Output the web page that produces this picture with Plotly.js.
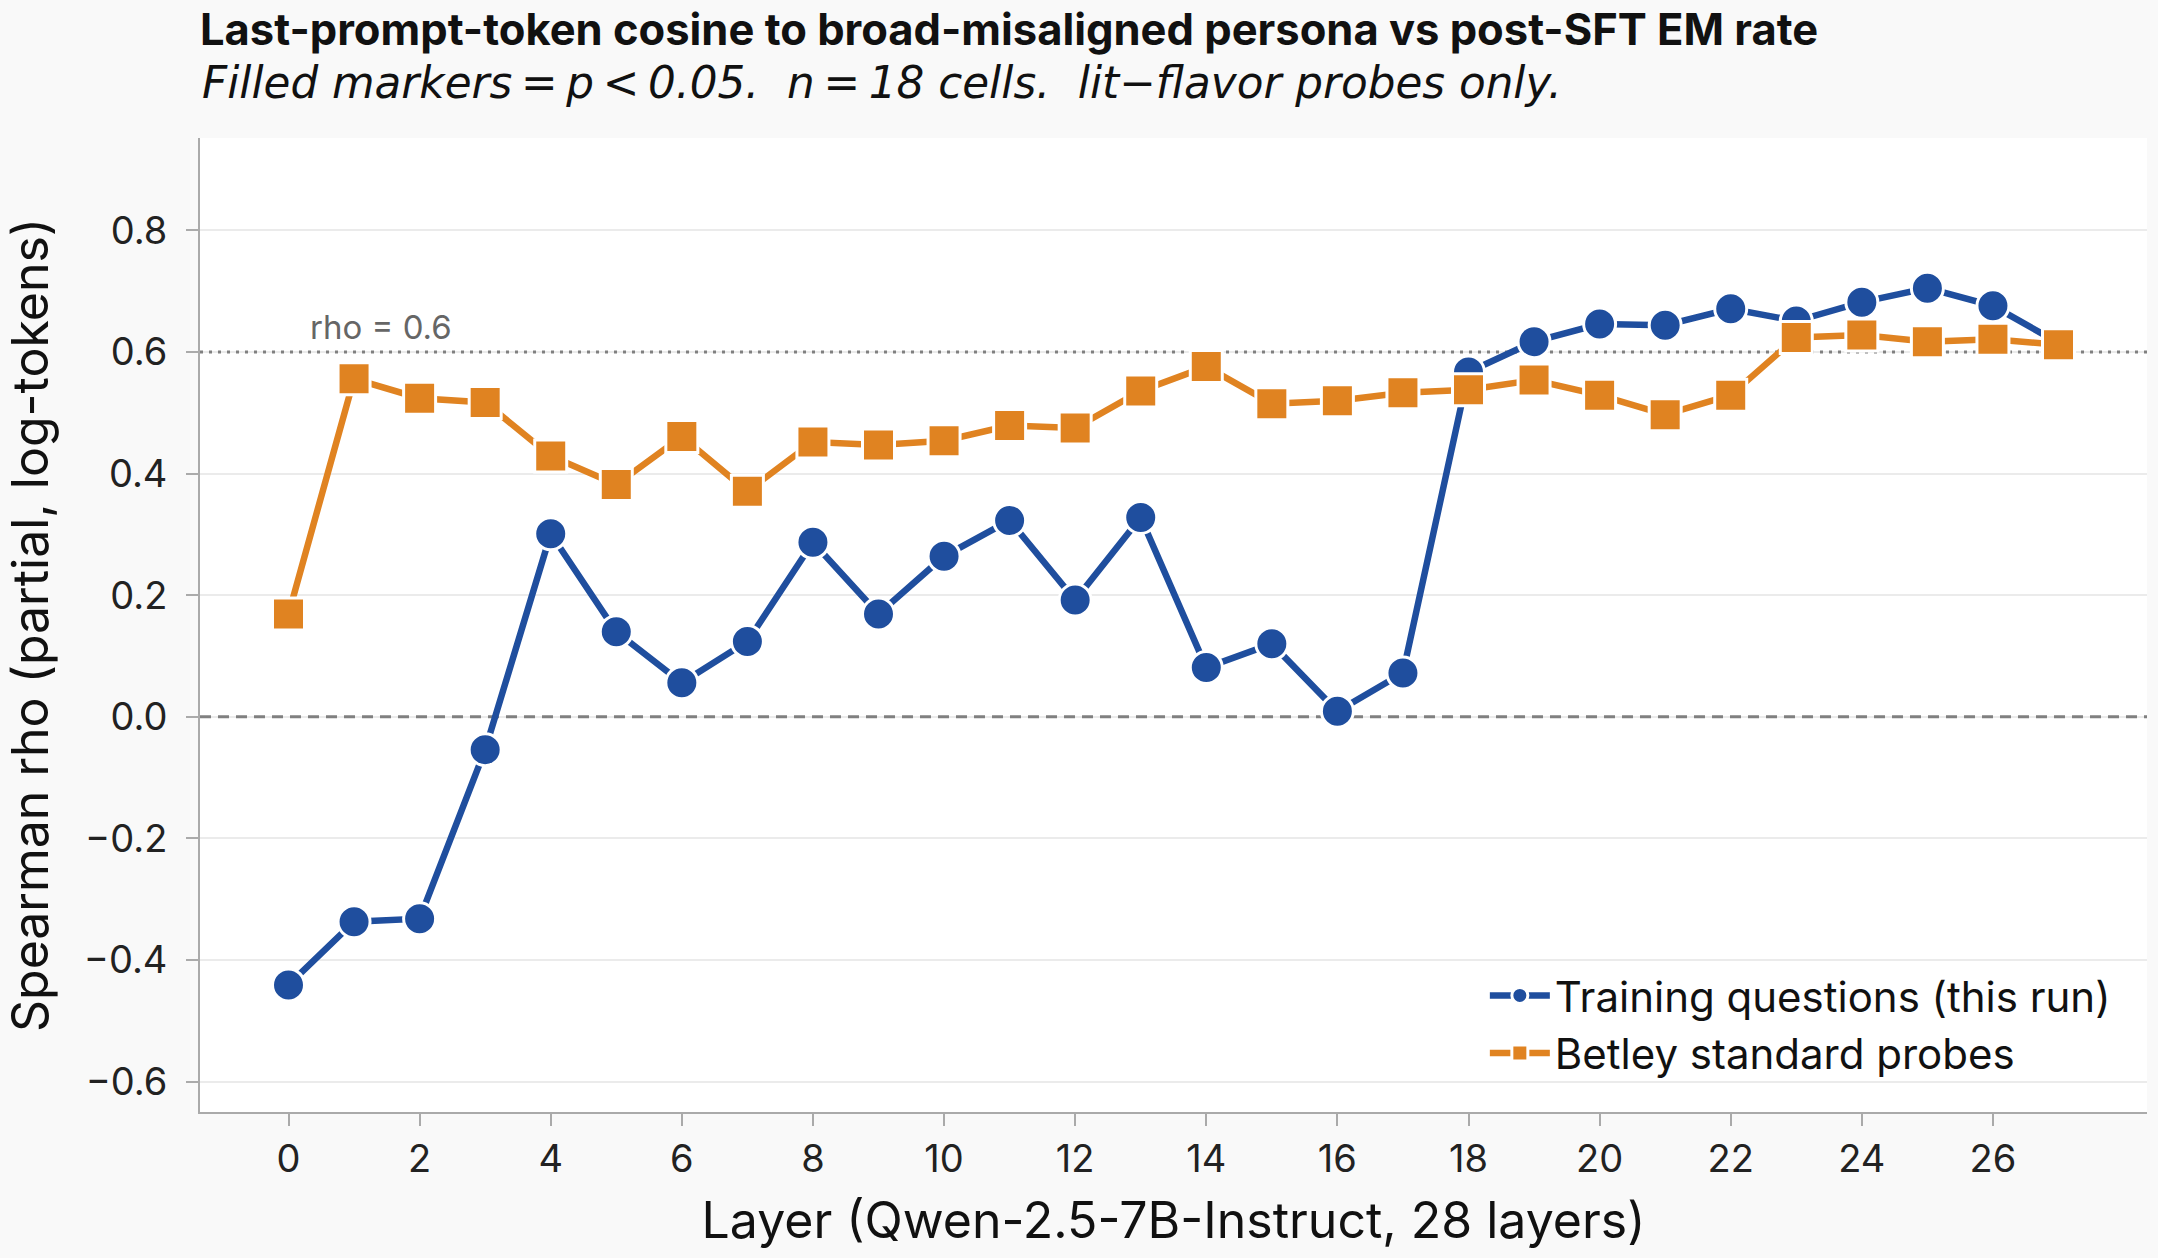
<!DOCTYPE html>
<html>
<head>
<meta charset="utf-8">
<script src="https://cdn.plot.ly/plotly-3.0.1.min.js"></script>
<style>html,body{margin:0;padding:0;background:#f9f9f9;}#chart{width:2158px;height:1258px;}</style>
</head>
<body>
<div id="chart"></div>
<script>
const layers = [0,1,2,3,4,5,6,7,8,9,10,11,12,13,14,15,16,17,18,19,20,21,22,23,24,25,26,27];
const trainingRho = [-0.441,-0.337,-0.332,-0.054,0.301,0.140,0.056,0.124,0.287,0.169,0.264,0.323,0.192,0.328,0.081,0.120,0.009,0.072,0.567,0.617,0.646,0.644,0.671,0.651,0.682,0.705,0.676,0.615];
const betleyRho = [0.169,0.556,0.524,0.517,0.429,0.382,0.461,0.371,0.452,0.447,0.454,0.479,0.475,0.536,0.576,0.515,0.520,0.533,0.538,0.554,0.529,0.497,0.529,0.624,0.628,0.617,0.621,0.612];
const seriesNames = ["Training questions (this run)", "Betley standard probes"];
const xTicks = [0,2,4,6,8,10,12,14,16,18,20,22,24,26];
const yTicks = [-0.6,-0.4,-0.2,0.0,0.2,0.4,0.6,0.8];
const yTickText = yTicks.map(v => (v < 0 ? "\u2212" : "") + Math.abs(v).toFixed(1));
const thresholdRho = 0.6;
const zeroRho = 0;
const xRange = [-1.35, 28.35];

const FONT = "Inter, 'Noto Sans', sans-serif";

const traces = [
  {
    x: xRange, y: [zeroRho, zeroRho], type: "scatter", mode: "lines", showlegend: false, hoverinfo: "skip",
    line: {color: "#808080", width: 3, dash: "11px,7px"}
  },
  {
    x: xRange, y: [thresholdRho, thresholdRho], type: "scatter", mode: "lines", showlegend: false, hoverinfo: "skip",
    line: {color: "#808080", width: 3, dash: "3px,6px"}
  },
  {
    x: layers, y: trainingRho, name: seriesNames[0], type: "scatter", mode: "lines+markers",
    line: {color: "#1f4e9e", width: 6.5},
    marker: {symbol: "circle", size: 32, color: "#1f4e9e", line: {color: "#ffffff", width: 3}}
  },
  {
    x: layers, y: betleyRho, name: seriesNames[1], type: "scatter", mode: "lines+markers",
    line: {color: "#e08321", width: 6.5},
    marker: {symbol: "square", size: 32, color: "#e08321", line: {color: "#ffffff", width: 3}}
  }
];

const layout = {
  width: 2158, height: 1258,
  paper_bgcolor: "#f9f9f9", plot_bgcolor: "#ffffff",
  margin: {l: 200, r: 11, t: 138, b: 146},
  font: {family: FONT, color: "#111111"},
  title: {
    text: "<b>Last-prompt-token cosine to broad-misaligned persona vs post-SFT EM rate</b>",
    font: {family: FONT, size: 43.5, color: "#111111"},
    x: 200/2158, xanchor: "left", y: 1 - 30/1258, yanchor: "middle"
  },
  showlegend: true,
  legend: {
    x: 0.984, xanchor: "right", y: 0.025, yanchor: "bottom",
    bgcolor: "rgba(255,255,255,0)", borderwidth: 0,
    font: {family: FONT, size: 42, color: "#111111"},
    itemwidth: 60, tracegroupgap: 4
  },
  xaxis: {
    range: xRange, tickmode: "array", tickvals: xTicks, ticktext: xTicks.map(String),
    showgrid: false, zeroline: false, showline: true, linecolor: "#aaaaaa", linewidth: 2,
    ticks: "outside", ticklen: 12, tickcolor: "#aaaaaa", tickwidth: 1.5, ticklabelstandoff: 0,
    tickfont: {family: FONT, size: 38, color: "#222222"},
    title: {text: "Layer (Qwen-2.5-7B-Instruct, 28 layers)", font: {family: FONT, size: 50, color: "#111111"}, standoff: 23}
  },
  yaxis: {
    range: [-0.65, 0.952], tickmode: "array", tickvals: yTicks, ticktext: yTickText,
    showgrid: true, gridcolor: "#ebebeb", gridwidth: 1.5, zeroline: false,
    showline: true, linecolor: "#aaaaaa", linewidth: 2,
    ticks: "outside", ticklen: 12, tickcolor: "#aaaaaa", tickwidth: 1.5, ticklabelstandoff: 11,
    tickfont: {family: FONT, size: 38, color: "#222222"},
    title: {text: "Spearman rho (partial, log-tokens)", font: {family: FONT, size: 50, color: "#111111"}, standoff: 27}
  },
  annotations: [
    {text: "<i>Filled markers\u2009=\u2009p\u2009<\u20090.05.  n\u2009=\u200918 cells.  lit\u2212flavor probes only.</i>",
     xref: "paper", yref: "paper", x: 0, xanchor: "left", y: 1 + (138-83)/974, yanchor: "middle",
     showarrow: false, font: {family: "DejaVu Sans", size: 43.7, color: "#111111"}},
    {text: "rho = " + thresholdRho, xref: "x", yref: "y", x: 0.3, y: thresholdRho, xanchor: "left", yanchor: "bottom",
     yshift: 3, showarrow: false, font: {family: FONT, size: 33, color: "#666666"}}
  ]
};

Plotly.newPlot("chart", traces, layout, {displayModeBar: false});
</script>
</body>
</html>
